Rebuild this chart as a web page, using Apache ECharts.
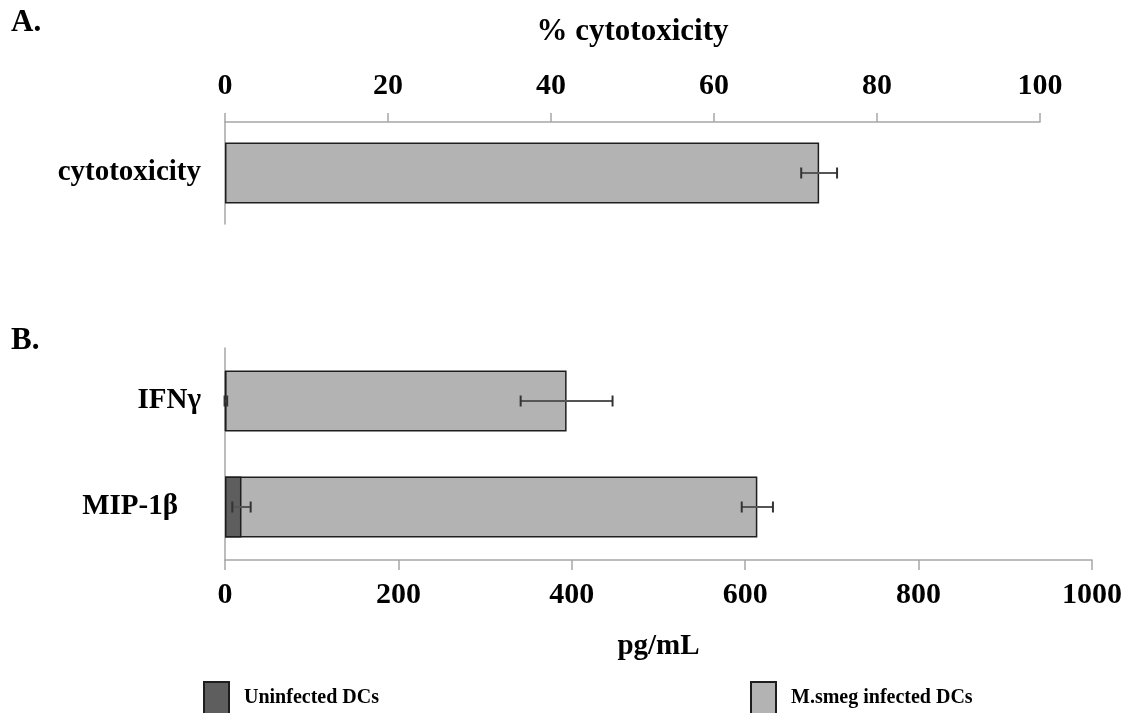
<!DOCTYPE html>
<html>
<head>
<meta charset="utf-8">
<script src="https://cdn.jsdelivr.net/npm/echarts@6/dist/echarts.min.js"></script>
<style>html,body{margin:0;padding:0;background:#fff}#c{width:1135px;height:713px}</style>
</head>
<body>
<div id="c"></div>
<script>
// ---- data ----
const panelACategories = ['cytotoxicity'];
const panelAValues = [72.9];
const panelAErrors = [2.2];
const panelATicks = [0, 20, 40, 60, 80, 100];

const panelBCategories = ['IFNγ', 'MIP-1β'];
const uninfectedValues = [1, 19];
const uninfectedErrors = [1.5, 10.6];
const infectedValues = [394, 614];
const infectedErrors = [53, 18];
const panelBTicks = [0, 200, 400, 600, 800, 1000];

const seriesNames = ['Uninfected DCs', 'M.smeg infected DCs'];

// ---- style ----
const FONT = '"Liberation Serif", "Times New Roman", serif';
const AXIS_GRAY = '#a6a6a6';
const INFECTED = '#b3b3b3';
const UNINFECTED = '#5e5e5e';
const BORDER = '#1e1e1e';

function errRender(capH) {
  return function (params, api) {
    const v = api.value(0), cat = api.value(1), e = api.value(2);
    const lo = api.coord([v - e, cat]);
    const hi = api.coord([v + e, cat]);
    const st = { stroke: '#333', lineWidth: 2 };
    return {
      type: 'group',
      children: [
        { type: 'line', shape: { x1: lo[0], y1: lo[1], x2: hi[0], y2: hi[1] }, style: { stroke: '#555', lineWidth: 2 } },
        { type: 'line', shape: { x1: lo[0], y1: lo[1] - capH / 2, x2: lo[0], y2: lo[1] + capH / 2 }, style: st },
        { type: 'line', shape: { x1: hi[0], y1: hi[1] - capH / 2, x2: hi[0], y2: hi[1] + capH / 2 }, style: st }
      ]
    };
  };
}

const tickLabel = { fontFamily: FONT, fontWeight: 'bold', fontSize: 30, color: '#000' };
const catLabel = { fontFamily: FONT, fontWeight: 'bold', fontSize: 29, color: '#000' };

const chart = echarts.init(document.getElementById('c'), null, { renderer: 'canvas' });
chart.setOption({
  animation: false,
  backgroundColor: '#fff',
  textStyle: { fontFamily: FONT },
  graphic: [
    { type: 'text', left: 11, top: 7, style: { text: 'A.', font: 'bold 31px ' + FONT, fill: '#000' } },
    { type: 'text', left: 11, top: 325, style: { text: 'B.', font: 'bold 31px ' + FONT, fill: '#000' } }
  ],
  legend: [
    {
      left: 203, top: 681, padding: 0, itemWidth: 25, itemHeight: 32, icon: 'rect',
      data: [seriesNames[0]],
      textStyle: { fontFamily: FONT, fontWeight: 'bold', fontSize: 20, color: '#000', padding: [0, 0, 0, 10] }
    },
    {
      left: 750, top: 681, padding: 0, itemWidth: 25, itemHeight: 32, icon: 'rect',
      data: [seriesNames[1]],
      textStyle: { fontFamily: FONT, fontWeight: 'bold', fontSize: 20, color: '#000', padding: [0, 0, 0, 10] }
    }
  ],
  grid: [
    { left: 225, right: 95, top: 122, height: 102 },
    { left: 225, right: 43, top: 348, height: 212 }
  ],
  xAxis: [
    {
      gridIndex: 0, type: 'value', position: 'top',
      min: panelATicks[0], max: panelATicks[panelATicks.length - 1], interval: panelATicks[1] - panelATicks[0],
      name: '% cytotoxicity', nameLocation: 'middle', nameGap: 75,
      nameTextStyle: { fontFamily: FONT, fontWeight: 'bold', fontSize: 31, color: '#000' },
      axisLine: { show: true, lineStyle: { color: AXIS_GRAY, width: 1.5 } },
      axisTick: { show: true, inside: false, length: 9, lineStyle: { color: AXIS_GRAY, width: 1.5 } },
      axisLabel: Object.assign({ margin: 21, formatter: v => String(v) }, tickLabel),
      splitLine: { show: false }
    },
    {
      gridIndex: 1, type: 'value', position: 'bottom',
      min: panelBTicks[0], max: panelBTicks[panelBTicks.length - 1], interval: panelBTicks[1] - panelBTicks[0],
      name: 'pg/mL', nameLocation: 'middle', nameGap: 72,
      nameTextStyle: { fontFamily: FONT, fontWeight: 'bold', fontSize: 29, color: '#000' },
      axisLine: { show: true, lineStyle: { color: AXIS_GRAY, width: 1.5 } },
      axisTick: { show: true, inside: false, length: 10, lineStyle: { color: AXIS_GRAY, width: 1.5 } },
      axisLabel: Object.assign({ margin: 20, formatter: v => String(v) }, tickLabel),
      splitLine: { show: false }
    }
  ],
  yAxis: [
    {
      gridIndex: 0, type: 'category', data: panelACategories, inverse: true,
      axisLine: { show: true, lineStyle: { color: AXIS_GRAY, width: 1.5 } },
      axisTick: { show: false },
      axisLabel: Object.assign({ margin: 24 }, catLabel)
    },
    {
      gridIndex: 1, type: 'category', data: panelBCategories, inverse: true,
      axisLine: { show: true, lineStyle: { color: AXIS_GRAY, width: 1.5 } },
      axisTick: { show: false },
      axisLabel: Object.assign({
        margin: 24,
        formatter: (v, i) => i === 1 ? '{p|' + v + '}' : v,
        rich: { p: { fontFamily: FONT, fontWeight: 'bold', fontSize: 29, color: '#000', padding: [0, 23, 0, 0] } }
      }, catLabel)
    }
  ],
  series: [
    {
      name: 'cytotoxicity', type: 'bar', xAxisIndex: 0, yAxisIndex: 0,
      data: panelAValues, barWidth: 61,
      itemStyle: { color: INFECTED, borderColor: BORDER, borderWidth: 1.5 }
    },
    {
      type: 'custom', xAxisIndex: 0, yAxisIndex: 0, z: 5,
      renderItem: errRender(11),
      encode: { x: 0, y: 1 },
      data: panelAValues.map((v, i) => [v, i, panelAErrors[i]])
    },
    {
      name: seriesNames[1], type: 'bar', xAxisIndex: 1, yAxisIndex: 1, z: 2,
      data: infectedValues, barWidth: 61, barGap: '-100%',
      itemStyle: { color: INFECTED, borderColor: BORDER, borderWidth: 1.5 }
    },
    {
      name: seriesNames[0], type: 'bar', xAxisIndex: 1, yAxisIndex: 1, z: 3,
      data: uninfectedValues, barWidth: 61, barGap: '-100%',
      itemStyle: { color: UNINFECTED, borderColor: BORDER, borderWidth: 1.5 }
    },
    {
      type: 'custom', xAxisIndex: 1, yAxisIndex: 1, z: 6,
      renderItem: errRender(11),
      encode: { x: 0, y: 1 },
      data: infectedValues.map((v, i) => [v, i, infectedErrors[i]])
    },
    {
      type: 'custom', xAxisIndex: 1, yAxisIndex: 1, z: 7,
      renderItem: errRender(11),
      encode: { x: 0, y: 1 },
      data: uninfectedValues.map((v, i) => [v, i, uninfectedErrors[i]])
    }
  ]
});
</script>
</body>
</html>
